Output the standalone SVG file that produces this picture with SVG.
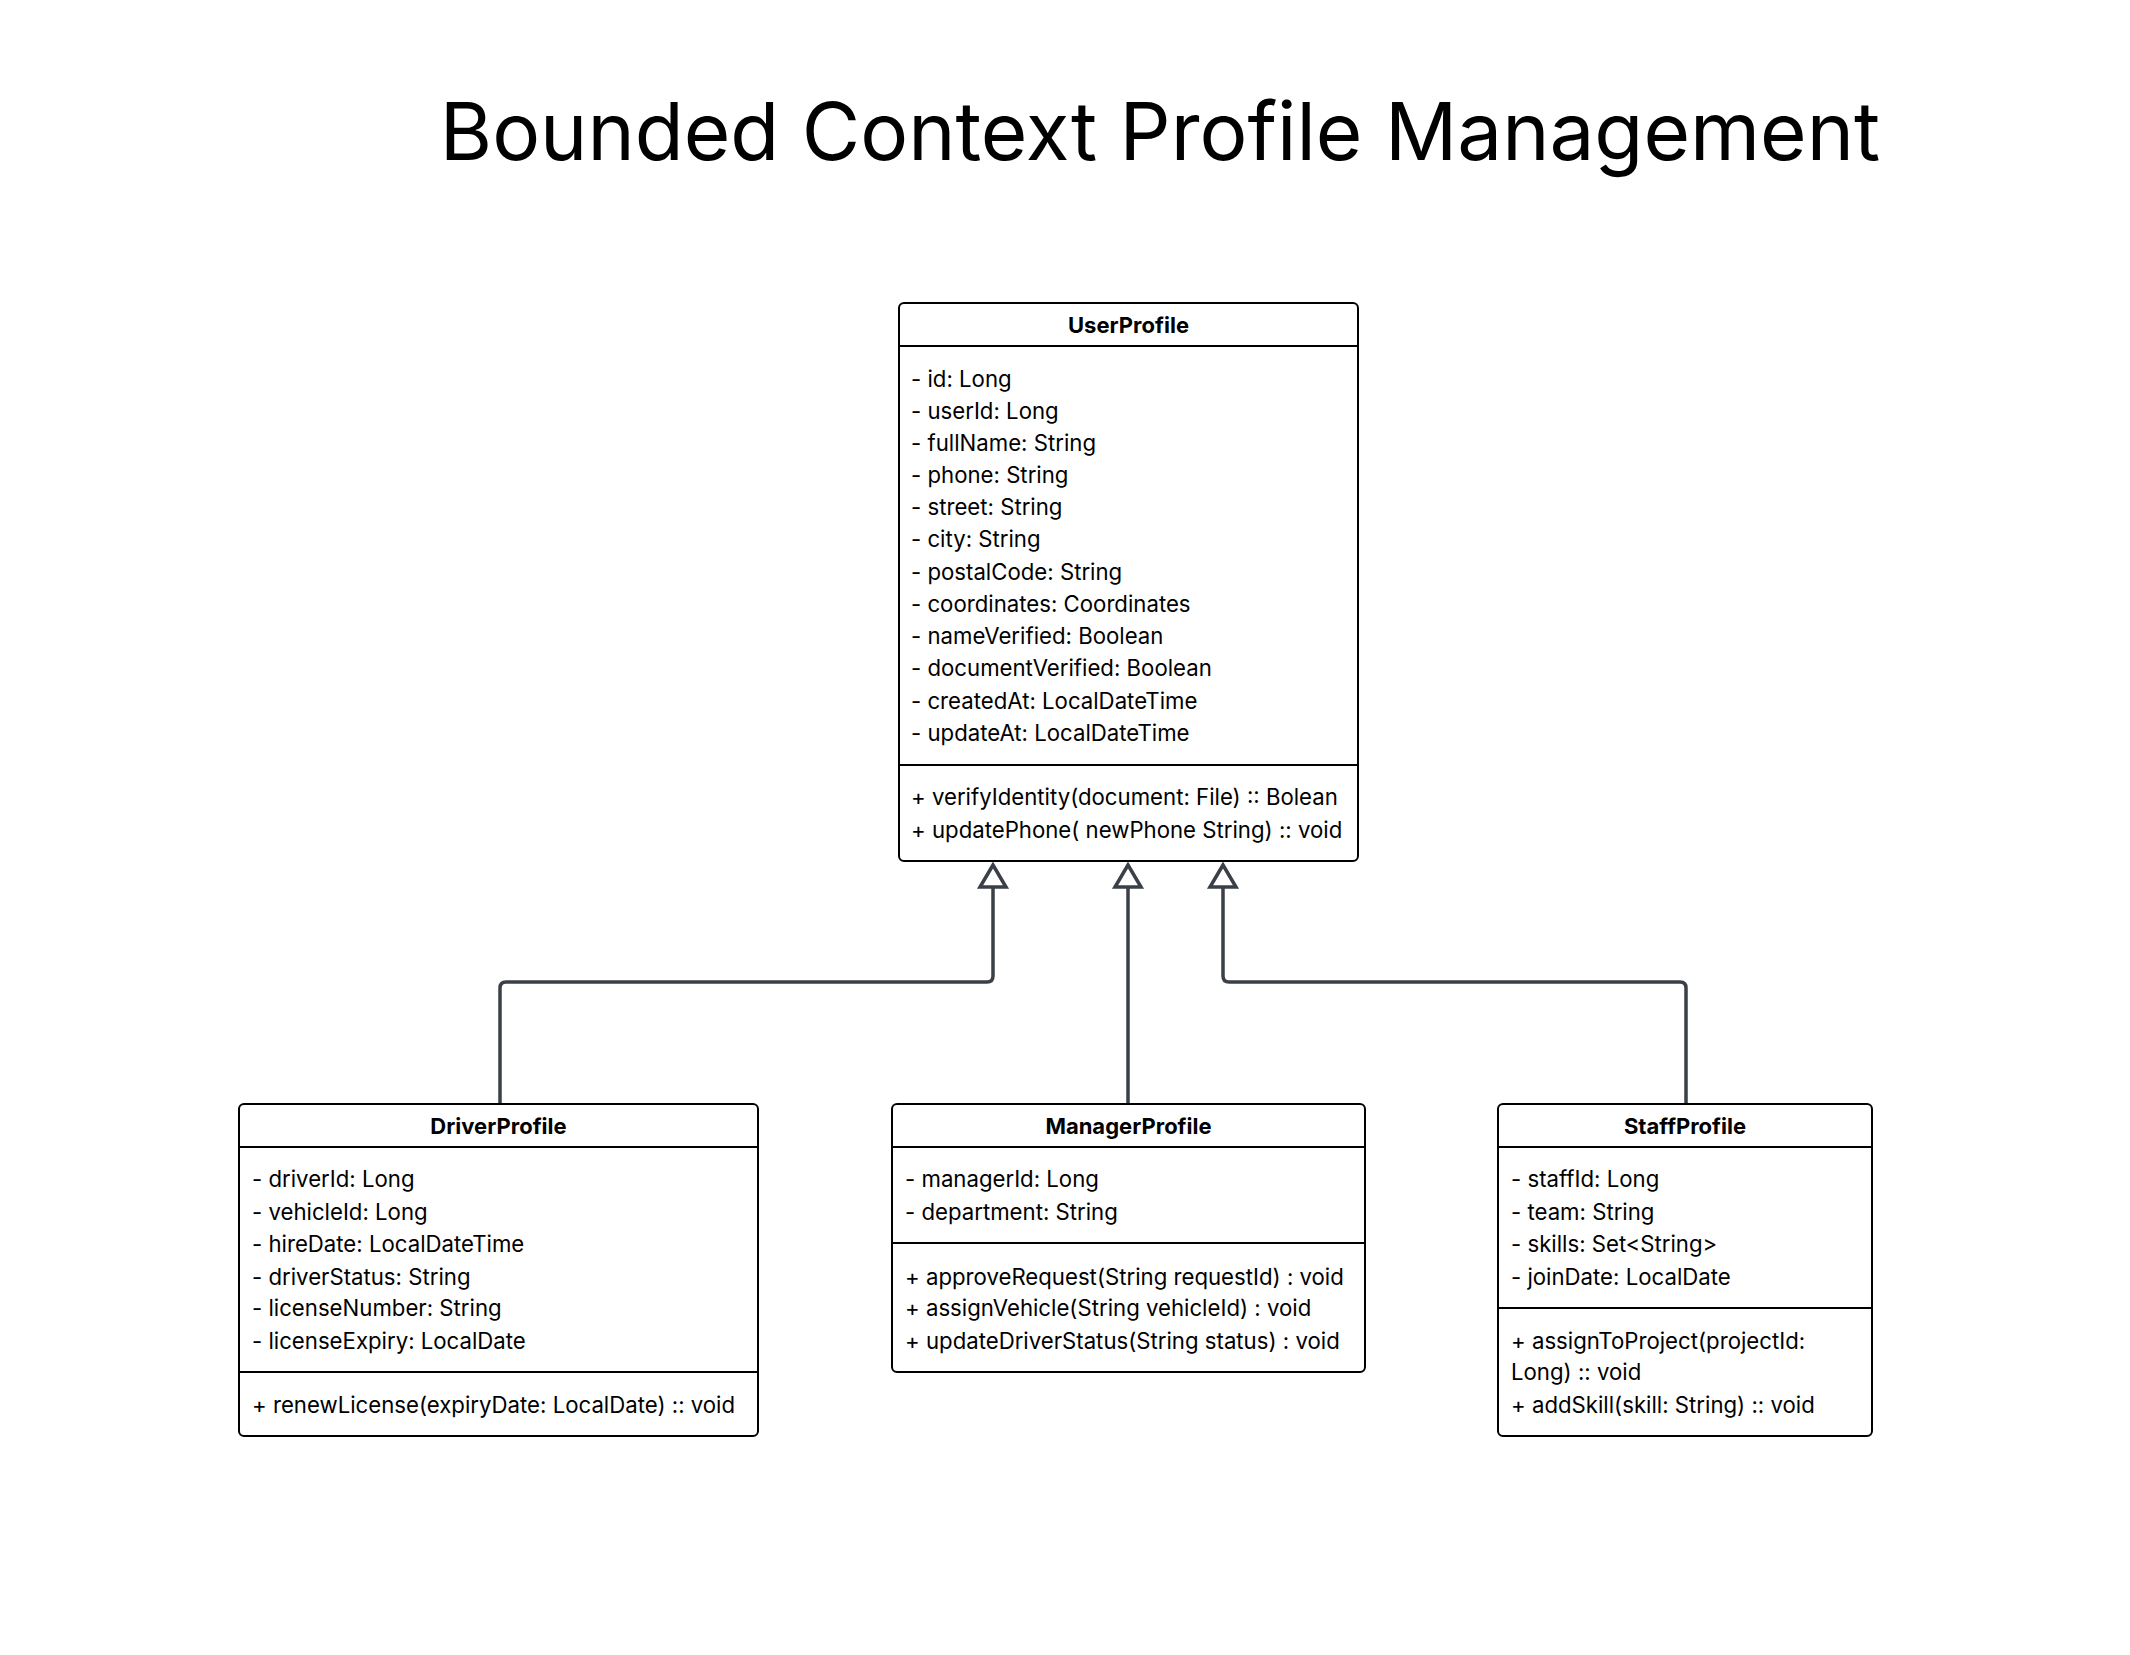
<svg xmlns="http://www.w3.org/2000/svg" width="2130" height="1655" viewBox="0 0 2130 1655">
<style>
.box{fill:#fff;stroke:#000;stroke-width:2}
.sep{stroke:#000;stroke-width:2}
.hd{font-family:Inter,"Liberation Sans",sans-serif;font-size:22px;font-weight:700;fill:#000;text-anchor:middle}
.t{font-family:Inter,"Liberation Sans",sans-serif;font-size:22.2px;fill:#000}
.title{font-family:Inter,"Liberation Sans",sans-serif;font-size:80px;fill:#000;text-anchor:middle}
.conn{fill:none;stroke:#3b4048;stroke-width:3.5;stroke-linejoin:round}
.head{fill:#fff;stroke:#3b4048;stroke-width:3.5;stroke-linejoin:miter}
</style>
<rect width="2130" height="1655" fill="#fff"/>
<text class="title" x="1160" y="160">Bounded Context Profile Management</text>

<g id="connectors">
<path class="conn" d="M500,1104 V988 Q500,982 506,982 H987 Q993,982 993,976 V887"/>
<path class="conn" d="M1128,1104 V887"/>
<path class="conn" d="M1686,1104 V988 Q1686,982 1680,982 H1229 Q1223,982 1223,976 V887"/>
<polygon class="head" points="993,865 980,887 1006,887"/>
<polygon class="head" points="1128,865 1115,887 1141,887"/>
<polygon class="head" points="1223,865 1210,887 1236,887"/>
</g>

<g id="UserProfile">
<rect class="box" x="899" y="303" width="459" height="558" rx="5"/>
<line class="sep" x1="899" y1="346" x2="1358" y2="346"/>
<line class="sep" x1="899" y1="765" x2="1358" y2="765"/>
<text class="hd" x="1128.5" y="333">UserProfile</text>
<text class="t" x="911" y="387">- id: Long</text>
<text class="t" x="911" y="419">- userId: Long</text>
<text class="t" x="911" y="451">- fullName: String</text>
<text class="t" x="911" y="483">- phone: String</text>
<text class="t" x="911" y="515">- street: String</text>
<text class="t" x="911" y="547">- city: String</text>
<text class="t" x="911" y="580">- postalCode: String</text>
<text class="t" x="911" y="612">- coordinates: Coordinates</text>
<text class="t" x="911" y="644">- nameVerified: Boolean</text>
<text class="t" x="911" y="676">- documentVerified: Boolean</text>
<text class="t" x="911" y="709">- createdAt: LocalDateTime</text>
<text class="t" x="911" y="741">- updateAt: LocalDateTime</text>
<text class="t" x="911" y="805">+ verifyIdentity(document: File) :: Bolean</text>
<text class="t" x="911" y="838">+ updatePhone( newPhone String) :: void</text>
</g>

<g id="DriverProfile">
<rect class="box" x="239" y="1104" width="519" height="332" rx="5"/>
<line class="sep" x1="239" y1="1147" x2="758" y2="1147"/>
<line class="sep" x1="239" y1="1372" x2="758" y2="1372"/>
<text class="hd" x="498.5" y="1134">DriverProfile</text>
<text class="t" x="252" y="1187">- driverId: Long</text>
<text class="t" x="252" y="1220">- vehicleId: Long</text>
<text class="t" x="252" y="1252">- hireDate: LocalDateTime</text>
<text class="t" x="252" y="1285">- driverStatus: String</text>
<text class="t" x="252" y="1316">- licenseNumber: String</text>
<text class="t" x="252" y="1349">- licenseExpiry: LocalDate</text>
<text class="t" x="252" y="1413">+ renewLicense(expiryDate: LocalDate) :: void</text>
</g>

<g id="ManagerProfile">
<rect class="box" x="892" y="1104" width="473" height="268" rx="5"/>
<line class="sep" x1="892" y1="1147" x2="1365" y2="1147"/>
<line class="sep" x1="892" y1="1243" x2="1365" y2="1243"/>
<text class="hd" x="1128.5" y="1134">ManagerProfile</text>
<text class="t" x="905" y="1187">- managerId: Long</text>
<text class="t" x="905" y="1220">- department: String</text>
<text class="t" x="905" y="1285">+ approveRequest(String requestId) : void</text>
<text class="t" x="905" y="1316">+ assignVehicle(String vehicleId) : void</text>
<text class="t" x="905" y="1349">+ updateDriverStatus(String status) : void</text>
</g>

<g id="StaffProfile">
<rect class="box" x="1498" y="1104" width="374" height="332" rx="5"/>
<line class="sep" x1="1498" y1="1147" x2="1872" y2="1147"/>
<line class="sep" x1="1498" y1="1308" x2="1872" y2="1308"/>
<text class="hd" x="1685" y="1134">StaffProfile</text>
<text class="t" x="1511" y="1187">- staffId: Long</text>
<text class="t" x="1511" y="1220">- team: String</text>
<text class="t" x="1511" y="1252">- skills: Set&lt;String&gt;</text>
<text class="t" x="1511" y="1285">- joinDate: LocalDate</text>
<text class="t" x="1511" y="1349">+ assignToProject(projectId:</text>
<text class="t" x="1511" y="1380">Long) :: void</text>
<text class="t" x="1511" y="1413">+ addSkill(skill: String) :: void</text>
</g>
</svg>
